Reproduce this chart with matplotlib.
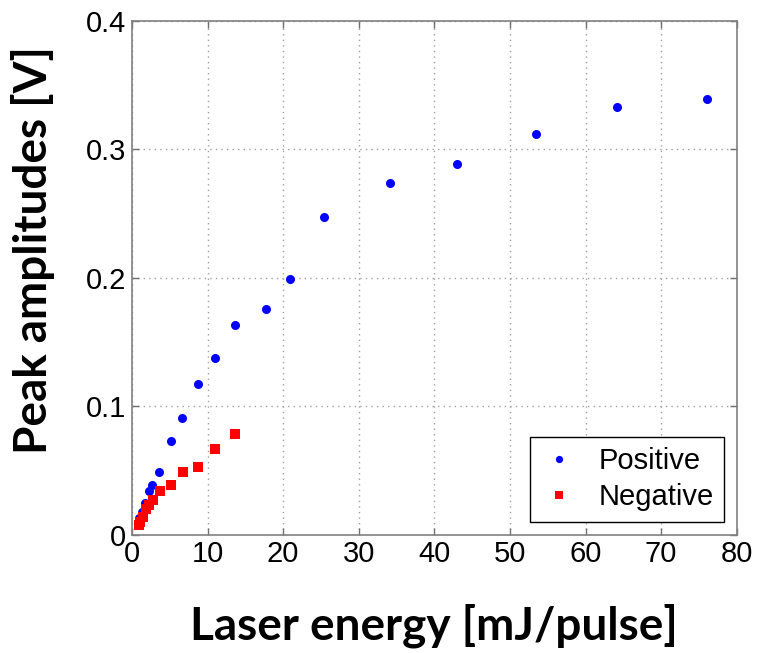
"""
plot.py
Peak amplitudes of positive and negative pulses vs laser energy.
"""

import matplotlib.pyplot as plt

# Positive peaks (blue circles)
pos_energy = [0.97, 1.3, 1.7, 2.2, 2.7, 3.6, 5.2, 6.6, 8.8, 11.0, 13.7, 17.7,
              20.9, 25.4, 34.2, 43.0, 53.5, 64.2, 76.1]
pos_amp = [0.013, 0.018, 0.025, 0.034, 0.039, 0.049, 0.073, 0.091, 0.117,
           0.1375, 0.163, 0.176, 0.199, 0.247, 0.274, 0.289, 0.312, 0.333, 0.339]

# Negative peaks (red squares)
neg_energy = [0.95, 1.1, 1.5, 1.8, 2.3, 2.8, 3.7, 5.2, 6.7, 8.8, 11.0, 13.7]
neg_amp = [0.008, 0.010, 0.014, 0.020, 0.023, 0.027, 0.034, 0.039, 0.0485,
           0.053, 0.067, 0.0786]

x_ticks = [0, 10, 20, 30, 40, 50, 60, 70, 80]
y_ticks = [0, 0.1, 0.2, 0.3, 0.4]
y_tick_labels = ["0", "0.1", "0.2", "0.3", "0.4"]

plt.rcParams["font.family"] = ["Liberation Sans", "DejaVu Sans"]

fig = plt.figure(figsize=(7.58, 6.53), dpi=100)
ax = fig.add_axes([0.174, 0.181, 0.798, 0.787])

ax.plot(pos_energy, pos_amp, "o", color="#0000ff", markersize=6.5,
        markeredgewidth=0, label="Positive")
ax.plot(neg_energy, neg_amp, "s", color="#ff0000", markersize=6.5,
        markeredgewidth=0, label="Negative")

ax.set_xlim(0, 80)
ax.set_ylim(0, 0.4)
ax.set_xticks(x_ticks)
ax.set_yticks(y_ticks)
ax.set_yticklabels(y_tick_labels)
ax.grid(True, linestyle=(0, (1, 3)), color="#a0a0a0", linewidth=1.0)
ax.set_axisbelow(True)

ax.tick_params(direction="in", top=True, right=True, length=5, width=1,
               color="#707070", labelsize=21, pad=4)
for side in ["top", "bottom", "left", "right"]:
    ax.spines[side].set_color("#808080")
    ax.spines[side].set_linewidth(1.2)

ax.set_xlabel("Laser energy [mJ/pulse]", fontsize=33, fontweight="bold",
              family="Lato", labelpad=25)
ax.set_ylabel("Peak amplitudes [V]", fontsize=33, fontweight="bold",
              family="Lato")
ax.yaxis.set_label_coords(-0.127, 0.554)

ax.legend(loc="lower right", fontsize=21, frameon=True, fancybox=False,
          edgecolor="black", framealpha=1, handletextpad=0.7,
          borderaxespad=0.45, markerscale=0.8, handlelength=1.3,
          borderpad=0.35, labelspacing=0.3)

fig.savefig("out.png", dpi=100)
